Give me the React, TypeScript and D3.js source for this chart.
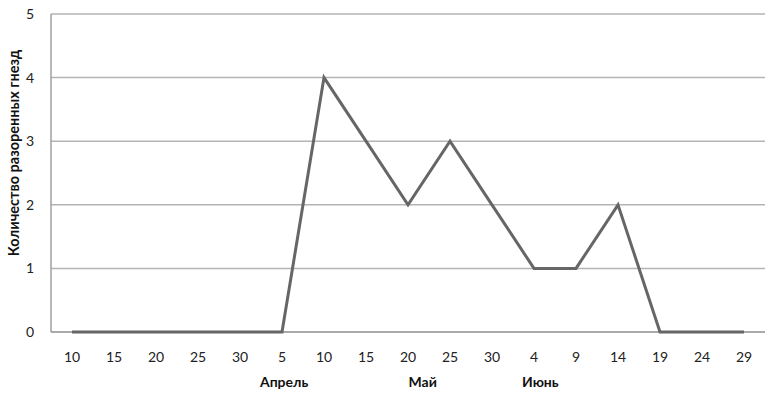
import * as d3 from 'd3';
import { useRef, useEffect } from 'react';

// x categories (days), grouped by month below the axis
const days: string[] = ['10', '15', '20', '25', '30', '5', '10', '15', '20', '25', '30', '4', '9', '14', '19', '24', '29'];
const nests: number[] = [0, 0, 0, 0, 0, 0, 4, 3, 2, 3, 2, 1, 1, 2, 0, 0, 0];
const months: string[] = ['Апрель', 'Май', 'Июнь'];
const monthAt: number[] = [5.05, 8.35, 11.15];
const yTicks: number[] = [0, 1, 2, 3, 4, 5];

const App = () => {
    const ref = useRef<SVGSVGElement>(null);

    useEffect(() => {
        if (!ref.current) return;
        const root = d3.select(ref.current);
        root.selectAll('*').remove();

        const margin = { top: 14, right: 3, bottom: 64, left: 51 },
            width = 768 - margin.left - margin.right,
            height = 396 - margin.top - margin.bottom;

        const svg = root.append('g')
            .attr('transform', 'translate(' + margin.left + ',' + margin.top + ')');

        const idx = days.map((_, i) => i);
        const x = d3.scaleBand<number>().domain(idx).range([0, width]);
        const cx = (i: number) => x(0)! + x.bandwidth() / 2 + i * x.step();
        const y = d3.scaleLinear().domain([0, 5]).range([height, 0]);

        // gridlines
        svg.selectAll('line.grid')
            .data(yTicks.filter(t => t > 0))
            .enter().append('line')
            .attr('class', 'grid')
            .attr('x1', 0).attr('x2', width)
            .attr('y1', d => y(d)).attr('y2', d => y(d))
            .style('stroke', '#b4b4b4')
            .style('stroke-width', 1.5);

        // axes lines
        svg.append('line')
            .attr('x1', 0).attr('x2', 0).attr('y1', 0).attr('y2', height)
            .style('stroke', '#a0a0a0').style('stroke-width', 1.5);
        svg.append('line')
            .attr('x1', 0).attr('x2', width).attr('y1', height).attr('y2', height)
            .style('stroke', '#8c8c8c').style('stroke-width', 1.5);

        // y tick labels
        svg.selectAll('text.ytick')
            .data(yTicks)
            .enter().append('text')
            .attr('class', 'ytick')
            .attr('x', -17)
            .attr('y', d => y(d))
            .attr('dy', '0.35em')
            .attr('text-anchor', 'end')
            .style('font-size', '14px')
            .style('fill', '#222')
            .text(d => d);

        // x tick labels
        svg.selectAll('text.xtick')
            .data(days)
            .enter().append('text')
            .attr('class', 'xtick')
            .attr('x', (_, i) => cx(i))
            .attr('y', height + 25)
            .attr('dy', '0.35em')
            .attr('text-anchor', 'middle')
            .style('font-size', '14px')
            .style('fill', '#222')
            .text(d => d);

        // month labels
        svg.selectAll('text.month')
            .data(months)
            .enter().append('text')
            .attr('class', 'month')
            .attr('x', (_, i) => cx(monthAt[i]))
            .attr('y', height + 50)
            .attr('dy', '0.35em')
            .attr('text-anchor', 'middle')
            .style('font-size', '14px')
            .style('font-weight', 'bold')
            .style('fill', '#111')
            .text(d => d);

        // y axis title
        svg.append('text')
            .attr('transform', 'translate(' + (14 - margin.left) + ',' + 139 + ') rotate(-90)')
            .attr('dy', '0.35em')
            .attr('text-anchor', 'middle')
            .style('font-size', '14.5px')
            .style('font-weight', 'bold')
            .style('fill', '#111')
            .text('Количество разоренных гнезд');

        const line = d3.line<number>()
            .x((_, i) => cx(i))
            .y(d => y(d));

        svg.append('path')
            .datum(nests)
            .attr('d', line)
            .style('fill', 'none')
            .style('stroke', '#666666')
            .style('stroke-width', 3)
            .style('stroke-linejoin', 'miter');
    }, []);

    return (
        <svg ref={ref} width={768} height={396}
            style={{ position: 'absolute', left: 0, top: 0, fontFamily: 'Lato, "Open Sans", sans-serif', background: '#fff' }}></svg>
    );
};

export default App;
